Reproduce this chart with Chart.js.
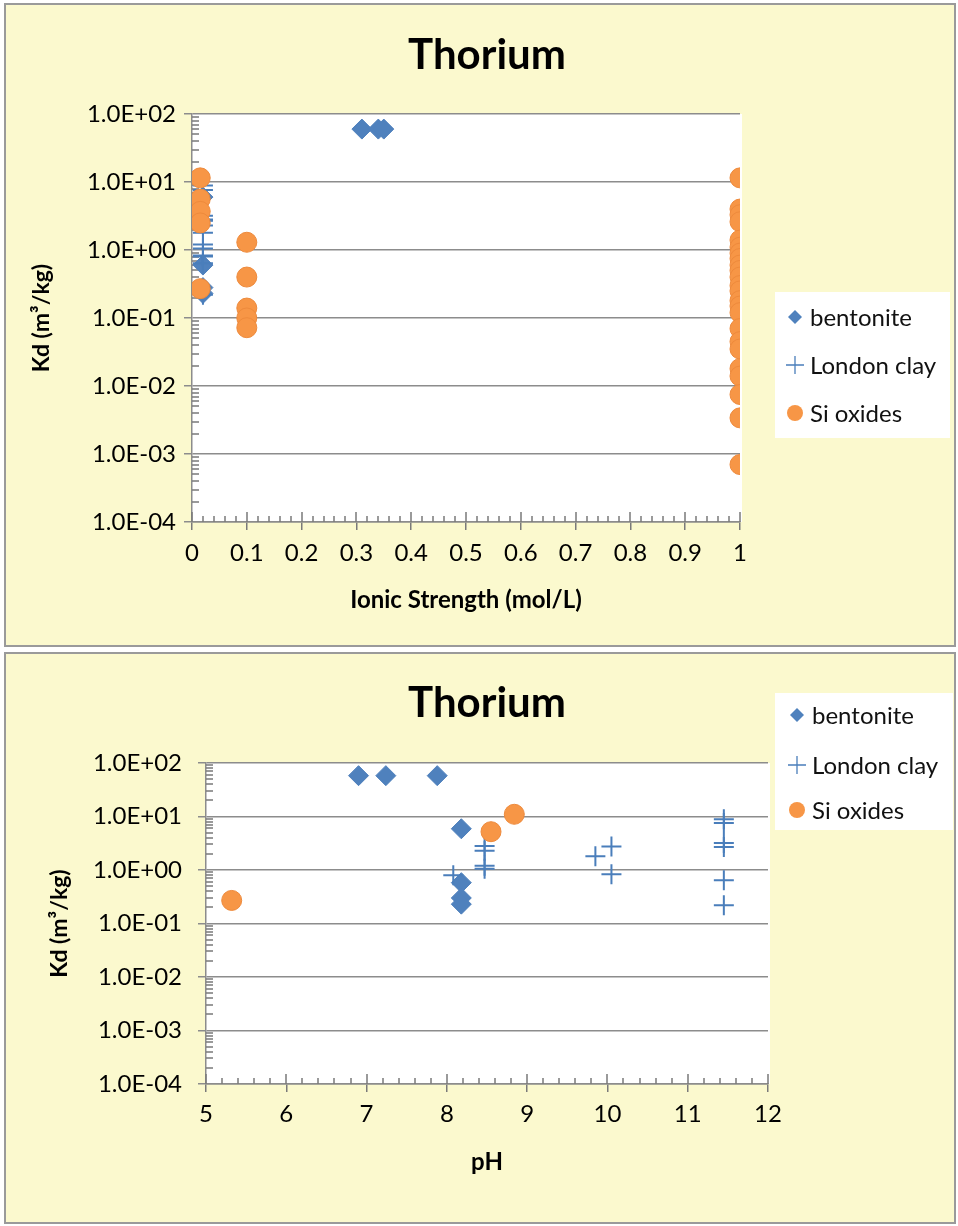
<!DOCTYPE html>
<html><head><meta charset="utf-8">
<script src="https://cdn.jsdelivr.net/npm/chart.js@4.4.1/dist/chart.umd.min.js"></script>
<style>
html,body{margin:0;padding:0;background:#fff;}
body{width:958px;height:1226px;position:relative;overflow:hidden;font-family:Lato,sans-serif;}
.panel{position:absolute;background:#FBF9CE;border:2px solid #9a9a9a;box-sizing:border-box;}
#p1{left:4px;top:3px;width:952px;height:644px;}
#p2{left:4px;top:652px;width:952px;height:572px;}
canvas{position:absolute;left:0;}
#c1{top:0;}
#c2{top:649px;}
</style></head>
<body>
<div class="panel" id="p1"></div>
<div class="panel" id="p2"></div>
<canvas id="c1" width="958" height="649" style="width:958px;height:649px"></canvas>
<canvas id="c2" width="958" height="577" style="width:958px;height:577px"></canvas>
<script>
// ---------- DATA ----------
const seriesNames = ['bentonite', 'London clay', 'Si oxides'];

// Chart 1: Kd vs Ionic strength
const bentoniteIonic   = [0.31, 0.34, 0.35, 0.02, 0.02, 0.02, 0.02];
const bentoniteKdIonic = [60, 60, 60, 6, 0.6, 0.28, 0.23];
const londonIonic      = [0.02, 0.02, 0.02, 0.02, 0.02, 0.02, 0.02, 0.02, 0.02, 0.02, 0.02, 0.02, 0.02, 0.02];
const londonKdIonic    = [0.8, 2.8, 2.3, 1.2, 1.05, 1.8, 2.75, 0.83, 8.9, 7.6, 3.2, 2.7, 0.64, 0.22];
const siIonic          = [0.015, 0.015, 0.015, 0.015, 0.015,
                          0.1, 0.1, 0.1, 0.1, 0.1,
                          1, 1, 1, 1, 1, 1, 1, 1, 1, 1, 1, 1, 1, 1, 1, 1, 1, 1, 1, 1, 1, 1, 1, 1];
const siKdIonic        = [11.5, 5.6, 3.7, 2.5, 0.27,
                          1.3, 0.4, 0.14, 0.1, 0.072,
                          11.5, 4.0, 3.3, 2.6, 1.4, 1.1, 0.9, 0.75, 0.6, 0.5, 0.4, 0.3, 0.25, 0.18,
                          0.15, 0.12, 0.07, 0.045, 0.035, 0.018, 0.014, 0.0075, 0.0034, 0.0007];

// Chart 2: Kd vs pH
const bentonitePH   = [6.9, 7.24, 7.88, 8.18, 8.18, 8.18, 8.18];
const bentoniteKdPH = [58, 58, 58, 5.9, 0.58, 0.3, 0.23];
const londonPH      = [8.08, 8.47, 8.47, 8.47, 8.47, 9.85, 10.05, 10.05, 11.45, 11.45, 11.45, 11.45, 11.45, 11.45];
const londonKdPH    = [0.8, 2.8, 2.3, 1.2, 1.05, 1.8, 2.75, 0.83, 8.9, 7.6, 3.2, 2.7, 0.64, 0.22];
const siPH          = [5.32, 8.55, 8.84];
const siKdPH        = [0.27, 5.2, 11];

// Axis ticks
const yTickValues = [1e-4, 1e-3, 1e-2, 1e-1, 1, 10, 100];
const yTickLabels = ['1.0E-04', '1.0E-03', '1.0E-02', '1.0E-01', '1.0E+00', '1.0E+01', '1.0E+02'];
const xTicksIonic = [0, 0.1, 0.2, 0.3, 0.4, 0.5, 0.6, 0.7, 0.8, 0.9, 1];
const xLabelsIonic = ['0', '0.1', '0.2', '0.3', '0.4', '0.5', '0.6', '0.7', '0.8', '0.9', '1'];
const xTicksPH = [5, 6, 7, 8, 9, 10, 11, 12];
const xLabelsPH = ['5', '6', '7', '8', '9', '10', '11', '12'];

const chartTitle = 'Thorium';
const yTitle = 'Kd (m\u00B3/kg)';
const xTitleIonic = 'Ionic Strength (mol/L)';
const xTitlePH = 'pH';

// ---------- STYLE ----------
const BLUE = '#4F81BD', CROSS = '#4A7EBB', ORANGE = '#F79646', GRID = '#8c8c8c', TICK = '#7a7a7a';
const FONT = 'Lato';

function pts(xs, ys) { return xs.map((x, i) => ({x: x, y: ys[i]})); }

function datasets(bx, by, lx, ly, sx, sy) {
  return [
    {label: seriesNames[0], data: pts(bx, by), pointStyle: 'rectRot', pointRadius: 10, pointHoverRadius: 10,
     backgroundColor: BLUE, borderColor: BLUE, borderWidth: 1, order: 3},
    {label: seriesNames[1], data: pts(lx, ly), pointStyle: 'cross', pointRadius: 10, pointHoverRadius: 10,
     backgroundColor: CROSS, borderColor: CROSS, borderWidth: 2, order: 2},
    {label: seriesNames[2], data: pts(sx, sy), pointStyle: 'circle', pointRadius: 10, pointHoverRadius: 10,
     backgroundColor: ORANGE, borderColor: '#EE8A3C', borderWidth: 1, order: 1}
  ];
}

function drawMarker(ctx, kind, x, y) {
  ctx.save();
  if (kind === 0) {
    ctx.fillStyle = BLUE; ctx.beginPath();
    ctx.moveTo(x - 7, y); ctx.lineTo(x, y - 7); ctx.lineTo(x + 7, y); ctx.lineTo(x, y + 7); ctx.closePath(); ctx.fill();
  } else if (kind === 1) {
    ctx.strokeStyle = CROSS; ctx.lineWidth = 1.3; ctx.beginPath();
    ctx.moveTo(x - 9, y); ctx.lineTo(x + 9, y); ctx.moveTo(x, y - 9); ctx.lineTo(x, y + 9); ctx.stroke();
  } else {
    ctx.fillStyle = ORANGE; ctx.beginPath(); ctx.arc(x, y, 8, 0, Math.PI * 2); ctx.fill();
  }
  ctx.restore();
}

function drawMinorTicks(chart, o) {
  const {ctx, chartArea: a, scales: {x, y}} = chart;
  ctx.save(); ctx.strokeStyle = TICK; ctx.lineWidth = 1.5;
  ctx.beginPath();
  const n = Math.round((x.max - x.min) / o.xMinor);
  for (let i = 0; i <= n; i++) {
    const px = Math.round(x.getPixelForValue(x.min + i * o.xMinor));
    const len = (i % o.xMinorPer === 0) ? 10 : 6;
    ctx.moveTo(px, a.bottom); ctx.lineTo(px, a.bottom - len);
  }
  for (let e = -4; e < 2; e++) {
    for (let k = 2; k <= 9; k++) {
      const py = Math.round(y.getPixelForValue(k * Math.pow(10, e)));
      ctx.moveTo(a.left, py); ctx.lineTo(a.left + 7, py);
    }
  }
  ctx.stroke();
  ctx.restore();
}

const decor = {
  id: 'decor',
  beforeDraw(chart) {
    const {ctx, chartArea: a} = chart;
    ctx.save(); ctx.fillStyle = '#fff';
    ctx.fillRect(a.left, a.top, a.right - a.left + 2, a.bottom - a.top);
    ctx.restore();
  },
  beforeDatasetsDraw(chart, args, o) {
    drawMinorTicks(chart, o);
  },
  afterDraw(chart, args, o) {
    const ctx = chart.ctx;
    ctx.save();
    ctx.fillStyle = '#000';
    ctx.font = 'bold 42px ' + FONT;
    ctx.textAlign = 'center'; ctx.textBaseline = 'middle';
    ctx.fillText(chartTitle, o.titleX, o.titleY);
    const L = o.legend;
    ctx.fillStyle = '#fff';
    ctx.fillRect(L.x, L.y, L.w, L.h);
    ctx.font = '24px ' + FONT; ctx.textAlign = 'left';
    for (let i = 0; i < 3; i++) {
      drawMarker(ctx, i, L.mx, L.rows[i]);
      ctx.fillStyle = '#111';
      ctx.fillText(seriesNames[i], L.tx, L.rows[i] + 1);
    }
    ctx.restore();
  }
};

function makeChart(id, cfg) {
  return new Chart(document.getElementById(id), {
    type: 'scatter',
    data: {datasets: cfg.datasets},
    plugins: [decor],
    options: {
      responsive: false, animation: false, events: [],
      layout: {padding: cfg.padding},
      plugins: {legend: {display: false}, tooltip: {enabled: false}, decor: cfg.decor},
      scales: {
        x: {
          type: 'linear', min: cfg.xMin, max: cfg.xMax,
          afterFit: s => { s.height = cfg.xHeight; },
          afterBuildTicks: s => { s.ticks = cfg.xTicks.map(v => ({value: v})); },
          ticks: {autoSkip: false, maxRotation: 0, padding: cfg.xTickPad, color: '#000',
                  font: {family: FONT, size: 24}, callback: (v, i) => cfg.xLabels[i]},
          grid: {drawOnChartArea: false, drawTicks: true, tickLength: 8, color: TICK, tickColor: TICK, lineWidth: 1.5},
          border: {display: true, color: GRID, width: 1.5},
          title: {display: true, text: cfg.xTitle, color: '#000', font: {family: FONT, size: 24, weight: 'bold'},
                  padding: {top: 0, bottom: cfg.xTitlePad}}
        },
        y: {
          type: 'logarithmic', min: 1e-4, max: 100,
          afterFit: s => { s.width = cfg.yWidth; },
          afterBuildTicks: s => { s.ticks = yTickValues.map(v => ({value: v})); },
          ticks: {autoSkip: false, padding: cfg.yTickPad, color: '#000',
                  font: {family: FONT, size: 24}, callback: (v, i) => yTickLabels[i]},
          grid: {drawTicks: true, tickLength: 8, color: GRID, tickColor: GRID, lineWidth: 1.5},
          border: {display: true, color: GRID, width: 1.5},
          title: {display: true, text: yTitle, color: '#000', font: {family: FONT, size: 23, weight: 'bold'},
                  padding: {top: cfg.yTitlePad, bottom: 0}}
        }
      }
    }
  });
}

makeChart('c1', {
  datasets: datasets(bentoniteIonic, bentoniteKdIonic, londonIonic, londonKdIonic, siIonic, siKdIonic),
  padding: {left: 20, right: 218, top: 114, bottom: 27},
  xMin: 0, xMax: 1, xTicks: xTicksIonic, xLabels: xLabelsIonic, xHeight: 100, xTickPad: 9,
  xTitle: xTitleIonic, xTitlePad: 7,
  yWidth: 172, yTickPad: 8, yTitlePad: 8,
  decor: {xMinor: 0.02, xMinorPer: 5, titleX: 487, titleY: 55,
          legend: {x: 775, y: 292, w: 175, h: 146, mx: 795, tx: 810, rows: [317, 365, 413]}}
});

makeChart('c2', {
  datasets: datasets(bentonitePH, bentoniteKdPH, londonPH, londonKdPH, siPH, siKdPH),
  padding: {left: 30, right: 190, top: 114, bottom: 32},
  xMin: 5, xMax: 12, xTicks: xTicksPH, xLabels: xLabelsPH, xHeight: 110, xTickPad: 8,
  xTitle: xTitlePH, xTitlePad: 17,
  yWidth: 176, yTickPad: 16, yTitlePad: 16,
  decor: {xMinor: 0.2, xMinorPer: 5, titleX: 487, titleY: 54,
          legend: {x: 775, y: 44, w: 178, h: 137, mx: 797, tx: 812, rows: [66, 116, 161]}}
});
</script>
</body></html>
